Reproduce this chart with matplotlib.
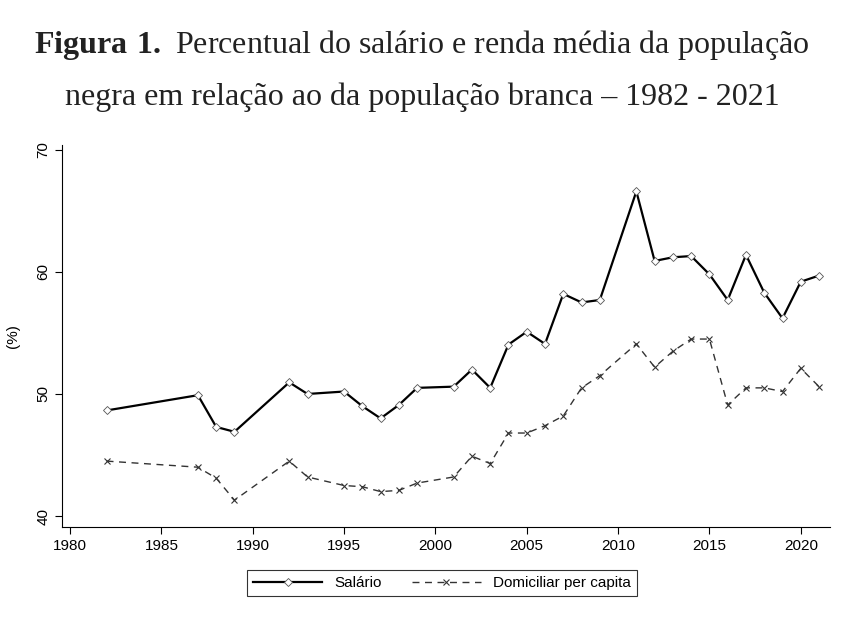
import matplotlib
matplotlib.use("Agg")
import matplotlib.pyplot as plt

plt.rcParams['font.family'] = 'Liberation Sans'
plt.rcParams['mathtext.fontset'] = 'custom'
plt.rcParams['mathtext.bf'] = 'Liberation Serif:bold'
plt.rcParams['mathtext.rm'] = 'Liberation Serif'

years_sal = [1982, 1987, 1988, 1989, 1992, 1993, 1995, 1996, 1997, 1998, 1999,
             2001, 2002, 2003, 2004, 2005, 2006, 2007, 2008, 2009, 2011, 2012,
             2013, 2014, 2015, 2016, 2017, 2018, 2019, 2020, 2021]
salario = [48.65, 49.9, 47.3, 46.9, 50.95, 50.0, 50.2, 49.0, 48.0, 49.1, 50.5,
           50.6, 52.0, 50.5, 54.05, 55.1, 54.1, 58.2, 57.5, 57.7, 66.6, 60.9,
           61.2, 61.3, 59.8, 57.7, 61.4, 58.3, 56.2, 59.2, 59.7]
domiciliar = [44.5, 44.0, 43.1, 41.3, 44.5, 43.2, 42.5, 42.4, 42.0, 42.1, 42.7,
              43.2, 44.9, 44.3, 46.8, 46.8, 47.4, 48.2, 50.5, 51.5, 54.1, 52.2,
              53.5, 54.5, 54.5, 49.1, 50.5, 50.5, 50.2, 52.1, 50.6]
xticks = [1980, 1985, 1990, 1995, 2000, 2005, 2010, 2015, 2020]
yticks = [40, 50, 60, 70]

fig = plt.figure(figsize=(8.44, 6.19), dpi=100)
ax = fig.add_axes([62/844, 1-527/619, (830-62)/844, (527-145)/619])
ax.plot(years_sal, salario, '-', color='black', lw=1.6, marker='D', ms=4,
        mfc='white', mec='#555', mew=0.6, label='Salário')
ax.plot(years_sal, domiciliar, '--', color='#333', lw=1.0, marker='x', ms=4,
        mec='#333', mew=0.8, dashes=(5, 4), label='Domiciliar per capita')
ax.set_xlim(1979.56, 2021.6)
ax.set_ylim(39.1, 70.4)
ax.set_xticks(xticks)
ax.set_yticks(yticks)
ax.set_yticklabels([str(v) for v in yticks], rotation=90, va='center')
ax.set_ylabel('(%)', fontsize=11, labelpad=12)
for s in ['top', 'right']:
    ax.spines[s].set_visible(False)
ax.tick_params(labelsize=11, length=5)
leg = fig.legend(loc='center', bbox_to_anchor=(442/844, 1-583/619), ncol=2,
                 fancybox=False, edgecolor='black', fontsize=11,
                 handlelength=4.5, columnspacing=2)
leg.get_frame().set_linewidth(0.8)

fig.text(0.5, 1-45/619, r'$\bf{Figura\ 1.}$' + ' Percentual do salário e renda média da população',
         ha='center', va='center', fontsize=23, family='Liberation Serif', color='#222')
fig.text(0.5, 1-97/619, 'negra em relação ao da população branca – 1982 - 2021',
         ha='center', va='center', fontsize=23, family='Liberation Serif', color='#222')
fig.savefig('out.png', dpi=100)
